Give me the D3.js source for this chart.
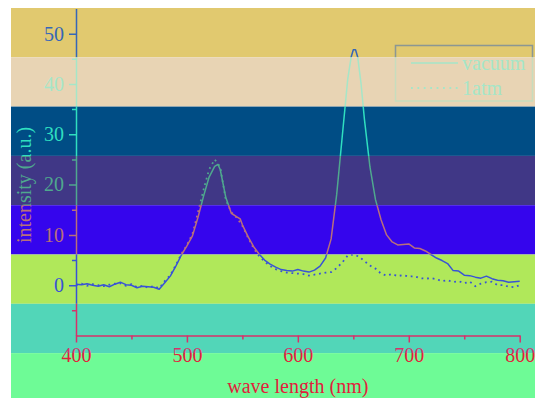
<!DOCTYPE html>
<html>
<head>
<meta charset="utf-8">
<script src="https://cdn.jsdelivr.net/npm/d3@7"></script>
<style>
  body { margin: 0; background: #fff; }
  svg { display: block; }
</style>
</head>
<body>
<svg id="chart" width="535" height="398"></svg>
<script>
// spectra (wavelength in nm, intensity in a.u.)
const vacuumX = [400, 405, 410, 415, 420, 425, 430, 435, 440, 445, 450, 455, 460, 465, 470, 475, 480, 485, 490, 495,
  500, 505, 510, 515, 520, 525, 528, 530, 535, 540, 545, 548, 550, 555, 560, 565, 570, 575, 580, 585,
  590, 595, 600, 605, 610, 615, 620, 625, 630, 635, 640, 645, 648, 650, 652, 654, 657, 660, 665, 670, 675,
  680, 685, 690, 695, 700, 705, 710, 715, 720, 725, 730, 735, 740, 745, 750, 755, 760, 765, 770, 775,
  780, 785, 790, 795, 800];
const vacuumY = [0.2, 0.1, 0.3, 0.0, -0.2, 0.1, -0.3, 0.2, 0.6, 0.1, 0.0, -0.5, -0.2, -0.3, -0.4, -0.8, 0.5, 1.8, 3.8, 6.0,
  7.8, 9.8, 13.5, 17.7, 21.5, 23.6, 24.0, 23.0, 17.5, 14.3, 13.6, 13.2, 12.0, 9.7, 7.7, 6.2, 5.0, 4.2, 3.6, 3.1,
  2.9, 2.8, 3.1, 2.8, 2.6, 3.0, 3.8, 5.4, 9.2, 18.0, 29.5, 41.0, 45.3, 46.8, 46.8, 45.3, 40.0, 33.0, 23.5, 17.0, 13.0,
  10.0, 8.6, 8.0, 8.1, 8.2, 7.4, 7.3, 6.8, 6.1, 5.4, 4.9, 4.3, 2.9, 2.8, 2.0, 1.9, 1.6, 1.4, 1.8, 1.3,
  1.0, 0.9, 0.6, 0.7, 0.8];

const atmX = [400, 405, 410, 415, 420, 425, 430, 435, 440, 445, 450, 455, 460, 465, 470, 475, 480, 485, 490, 495,
  500, 505, 510, 515, 520, 525, 530, 535, 540, 545, 550, 555, 560, 565, 570, 575, 580, 585, 590, 595,
  600, 605, 610, 615, 620, 625, 630, 635, 640, 645, 650, 655, 660, 665, 670, 675, 680, 685, 690, 695,
  700, 705, 710, 715, 720, 725, 730, 735, 740, 745, 750, 755, 760, 765, 770, 775, 780, 785, 790, 795,
  800];
const atmY = [0.0, 0.3, -0.1, 0.2, 0.0, -0.2, 0.1, 0.3, 0.4, -0.1, 0.2, -0.4, -0.1, -0.5, -0.2, -0.6, 0.8, 2.0, 4.0, 6.2,
  8.0, 10.2, 14.5, 19.0, 23.0, 25.0, 23.5, 17.0, 14.5, 13.4, 11.8, 9.5, 7.4, 5.8, 4.7, 3.8, 3.2, 2.8, 2.5, 2.4,
  2.3, 2.2, 1.9, 2.1, 2.3, 2.5, 2.6, 3.4, 4.5, 5.9, 6.1, 5.7, 4.8, 3.9, 3.3, 2.3, 1.9, 2.2, 1.8, 2.0,
  1.7, 1.8, 1.4, 1.3, 1.4, 1.2, 0.8, 1.0, 0.6, 0.8, 0.4, 0.7, -0.2, 0.3, 0.6, 0.7, 0.0, 0.0, -0.3, -0.4,
  0.0];

const seriesNames = ["vacuum", "1atm"];
const xTicks = [400, 500, 600, 700, 800];
const xMinorTicks = [450, 550, 650, 750];
const yTicks = [0, 10, 20, 30, 40, 50];
const yMinorTicks = [-5, 5, 15, 25, 35, 45];

// horizontal colour bands, and the ink used inside each of them
const bandFills = ["#e1c96f", "#e8d4b4", "#004d85", "#403786", "#3505ed", "#b0e85a", "#52d6b8", "#6efb96"];
const bandInk = ["#3566b8", "#a5e6c8", "#2fdfc0", "#4fa88e", "#b8707a", "#3853d6", "#d8306a", "#e2203c"];

const W = 535, H = 398;
const font = "'Liberation Serif', 'Times New Roman', serif";
const bandTop = 8, bandH = 49.3;

const x = d3.scaleLinear().domain([400, 800]).range([76, 519.7]);
const y = d3.scaleLinear().domain([-10, 55]).range([335.5, 8.5]);

const svg = d3.select("#chart");
const defs = svg.append("defs");

bandFills.forEach((fill, i) => {
  const y0 = bandTop + i * bandH;
  const h = i === bandFills.length - 1 ? H - y0 : bandH;
  svg.append("rect")
    .attr("x", 11).attr("y", y0)
    .attr("width", W - 11).attr("height", h)
    .attr("fill", fill);
  defs.append("clipPath").attr("id", "band" + i)
    .append("rect")
    .attr("x", 0).attr("y", y0)
    .attr("width", W).attr("height", h);
});

const line = d3.line().x((d) => x(d[0])).y((d) => y(d[1]));

function styleAxis(sel, ink) {
  sel.selectAll("path, line").attr("stroke", ink).attr("stroke-width", 1.5);
  sel.selectAll("text")
    .attr("fill", ink)
    .attr("font-family", font)
    .attr("font-size", 20);
}

function drawChart(g, ink) {
  // x axis
  g.append("g")
    .attr("transform", `translate(0,${y(-10)})`)
    .call(d3.axisBottom(x).tickValues(xTicks).tickSize(7).tickPadding(5).tickSizeOuter(0))
    .call((s) => styleAxis(s, ink));
  g.append("g")
    .attr("transform", `translate(0,${y(-10)})`)
    .call(d3.axisBottom(x).tickValues(xMinorTicks).tickSize(4).tickFormat(""))
    .call((s) => s.select(".domain").remove())
    .call((s) => styleAxis(s, ink));

  // y axis
  g.append("g")
    .attr("transform", `translate(${x(400)},0)`)
    .call(d3.axisLeft(y).tickValues(yTicks).tickSize(7).tickPadding(5).tickSizeOuter(0))
    .call((s) => styleAxis(s, ink));
  g.append("g")
    .attr("transform", `translate(${x(400)},0)`)
    .call(d3.axisLeft(y).tickValues(yMinorTicks).tickSize(4).tickFormat(""))
    .call((s) => s.select(".domain").remove())
    .call((s) => styleAxis(s, ink));

  // spectra
  g.append("path")
    .datum(atmX.map((v, i) => [v, atmY[i]]))
    .attr("d", line)
    .attr("fill", "none")
    .attr("stroke", ink)
    .attr("stroke-width", 1.8)
    .attr("stroke-dasharray", "1.8,3.8");
  g.append("path")
    .datum(vacuumX.map((v, i) => [v, vacuumY[i]]))
    .attr("d", line)
    .attr("fill", "none")
    .attr("stroke", ink)
    .attr("stroke-width", 1.5)
    .attr("stroke-linejoin", "round");

  // axis titles
  g.append("text")
    .attr("x", (x(400) + x(800)) / 2)
    .attr("y", 393)
    .attr("text-anchor", "middle")
    .attr("font-family", font)
    .attr("font-size", 20)
    .attr("fill", ink)
    .text("wave length (nm)");
  g.append("text")
    .attr("transform", "translate(31,185) rotate(-90)")
    .attr("text-anchor", "middle")
    .attr("font-family", font)
    .attr("font-size", 20)
    .attr("fill", ink)
    .text("intensity (a.u.)");

  // legend
  const legend = g.append("g").attr("transform", "translate(395.5,45.5)");
  legend.append("rect")
    .attr("width", 137).attr("height", 55.5)
    .attr("fill", "none")
    .attr("stroke", ink)
    .attr("stroke-opacity", 0.5)
    .attr("stroke-width", 1.5);
  seriesNames.forEach((name, i) => {
    const ly = 17.5 + i * 25;
    legend.append("line")
      .attr("x1", 15.5).attr("x2", 62.5)
      .attr("y1", ly).attr("y2", ly)
      .attr("stroke", ink)
      .attr("stroke-width", i === 0 ? 1.6 : 1.8)
      .attr("stroke-dasharray", i === 0 ? null : "1.8,4.6");
    legend.append("text")
      .attr("x", 66.5)
      .attr("y", ly + 7)
      .attr("font-family", font)
      .attr("font-size", 20)
      .attr("fill", ink)
      .text(name);
  });
}

bandInk.forEach((ink, i) => {
  const g = svg.append("g").attr("clip-path", `url(#band${i})`);
  drawChart(g, ink);
});
</script>
</body>
</html>
